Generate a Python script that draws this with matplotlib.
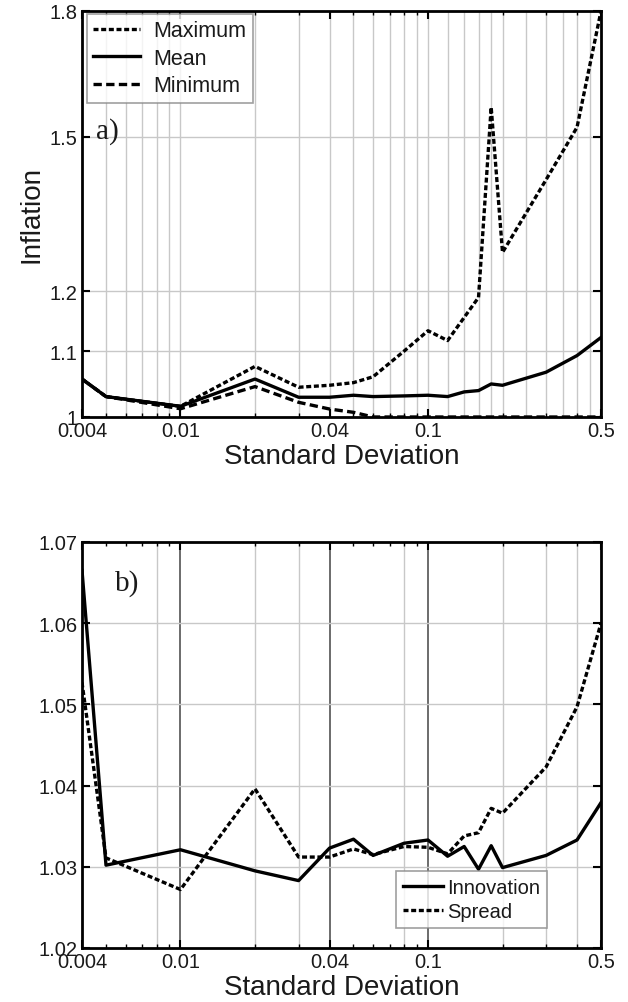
import matplotlib
matplotlib.use("Agg")
import matplotlib.pyplot as plt
from matplotlib.ticker import FixedLocator, NullFormatter, FixedFormatter, LogLocator
import numpy as np

plt.rcParams['font.family'] = ['Liberation Sans', 'DejaVu Sans']

# ---------------- data ----------------
sd = [0.004, 0.005, 0.01, 0.02, 0.03, 0.04, 0.05, 0.06, 0.08, 0.1,
      0.12, 0.14, 0.16, 0.18, 0.2, 0.3, 0.4, 0.5]

infl_max = [1.0565, 1.030, 1.0156, 1.076, 1.044, 1.047, 1.051, 1.060, 1.100, 1.133,
            1.117, 1.155, 1.189, 1.566, 1.269, 1.410, 1.521, 1.800]
infl_mean = [1.0565, 1.030, 1.0156, 1.0565, 1.029, 1.029, 1.032, 1.030, 1.031, 1.032,
             1.030, 1.037, 1.039, 1.049, 1.047, 1.067, 1.093, 1.122]
infl_min = [1.0565, 1.030, 1.012, 1.045, 1.0215, 1.0116, 1.0068, 1.000, 1.000, 1.000,
            1.000, 1.000, 1.000, 1.000, 1.000, 1.000, 1.000, 1.000]

innovation = [1.0665, 1.0302, 1.0321, 1.0295, 1.0283, 1.0323, 1.0334, 1.0314, 1.0329, 1.0333,
              1.0313, 1.0325, 1.0297, 1.0326, 1.0299, 1.0314, 1.0333, 1.0379]
spread = [1.0527, 1.0311, 1.0272, 1.0396, 1.0312, 1.0312, 1.0322, 1.0315, 1.0325, 1.0324,
          1.0316, 1.0338, 1.0342, 1.0372, 1.0366, 1.0423, 1.0497, 1.0600]

x_ticks = [0.004, 0.01, 0.04, 0.1, 0.5]
x_ticklabels = ['0.004', '0.01', '0.04', '0.1', '0.5']
ya_ticks = [1.0, 1.1, 1.2, 1.5, 1.8]
ya_ticklabels = ['1', '1.1', '1.2', '1.5', '1.8']
yb_ticks = [1.02, 1.03, 1.04, 1.05, 1.06, 1.07]
yb_ticklabels = ['1.02', '1.03', '1.04', '1.05', '1.06', '1.07']

# vertical grid positions
grid_a = [0.005, 0.006, 0.007, 0.008, 0.009, 0.01, 0.02, 0.03, 0.04, 0.05, 0.06, 0.07,
          0.08, 0.09, 0.1, 0.12, 0.14, 0.16, 0.18, 0.2, 0.25, 0.3, 0.35, 0.4, 0.45]
grid_b_light = [0.008, 0.02, 0.03, 0.08, 0.2, 0.3, 0.4]
grid_b_dark = [0.01, 0.04, 0.1]

W, H = 628, 1003
fig = plt.figure(figsize=(W / 100, H / 100), dpi=100)

TXT = '#1a1a1a'
GRID = '#c8c8c8'
LW = 2.4
TICKFS = 14.5
LABELFS = 20

def setup(ax):
    ax.set_xscale('log')
    ax.set_xlim(0.004, 0.5)
    ax.xaxis.set_major_locator(FixedLocator(x_ticks))
    ax.xaxis.set_major_formatter(FixedFormatter(x_ticklabels))
    ax.xaxis.set_minor_locator(LogLocator(base=10, subs=np.arange(2, 10)))
    ax.xaxis.set_minor_formatter(NullFormatter())
    for s in ax.spines.values():
        s.set_linewidth(2.0)
        s.set_color('black')
    ax.tick_params(which='major', direction='in', top=True, right=True, length=6,
                   width=1.5, labelsize=TICKFS, labelcolor=TXT, pad=3)
    ax.tick_params(which='minor', direction='in', top=True, right=True, length=3,
                   width=1.0)
    ax.set_xlabel('Standard Deviation', fontsize=LABELFS, color=TXT, labelpad=2)

# ---------------- panel a ----------------
axA = fig.add_axes([82 / W, 1 - 418 / H, 519 / W, 406 / H])
setup(axA)
axA.set_yscale('log')
axA.set_ylim(1.0, 1.8)
axA.yaxis.set_major_locator(FixedLocator(ya_ticks))
axA.yaxis.set_major_formatter(FixedFormatter(ya_ticklabels))
axA.yaxis.set_minor_locator(FixedLocator([]))
for g in grid_a:
    axA.axvline(g, color=GRID, lw=1.0, zorder=0)
for g in ya_ticks[1:-1]:
    axA.axhline(g, color=GRID, lw=1.0, zorder=0)

axA.plot(sd, infl_max, color='black', lw=LW, ls=(0, (1.5, 0.8)), label='Maximum')
axA.plot(sd, infl_mean, color='black', lw=LW, ls='-', label='Mean')
axA.plot(sd, infl_min, color='black', lw=LW, ls=(0, (2.5, 1.3)), label='Minimum')
axA.set_ylabel('Inflation', fontsize=LABELFS, color=TXT, labelpad=4)
leg = axA.legend(loc='upper left', bbox_to_anchor=(0.009, 0.993), fontsize=15.5,
                 frameon=True, fancybox=False, edgecolor='#888888', handlelength=2.2,
                 handletextpad=0.6, borderpad=0.3, labelspacing=0.3, borderaxespad=0)
leg.get_frame().set_linewidth(1.2)
for t in leg.get_texts():
    t.set_color(TXT)
axA.text(0.027, 0.705, 'a)', transform=axA.transAxes, fontsize=21,
         family=['Liberation Serif', 'DejaVu Serif'], color=TXT, va='center', ha='left')

# ---------------- panel b ----------------
axB = fig.add_axes([82 / W, 1 - 949 / H, 519 / W, 406 / H])
setup(axB)
axB.set_ylim(1.02, 1.07)
axB.yaxis.set_major_locator(FixedLocator(yb_ticks))
axB.yaxis.set_major_formatter(FixedFormatter(yb_ticklabels))
for g in grid_b_light:
    axB.axvline(g, color=GRID, lw=1.0, zorder=0)
for g in grid_b_dark:
    axB.axvline(g, color='#444444', lw=1.1, zorder=0)
for g in yb_ticks[1:-1]:
    axB.axhline(g, color=GRID, lw=1.0, zorder=0)

axB.plot(sd, innovation, color='black', lw=LW, ls='-', label='Innovation')
axB.plot(sd, spread, color='black', lw=LW, ls=(0, (1.5, 0.8)), label='Spread')
legb = axB.legend(loc='lower right', bbox_to_anchor=(0.896, 0.05), fontsize=14.5,
                  frameon=True, fancybox=False, edgecolor='#888888', handlelength=2.0,
                  handletextpad=0.2, borderpad=0.35, labelspacing=0.25, borderaxespad=0)
legb.get_frame().set_linewidth(1.2)
for t in legb.get_texts():
    t.set_color(TXT)
axB.text(0.064, 0.9, 'b)', transform=axB.transAxes, fontsize=21,
         family=['Liberation Serif', 'DejaVu Serif'], color=TXT, va='center', ha='left')

fig.savefig('out.png', dpi=100)
